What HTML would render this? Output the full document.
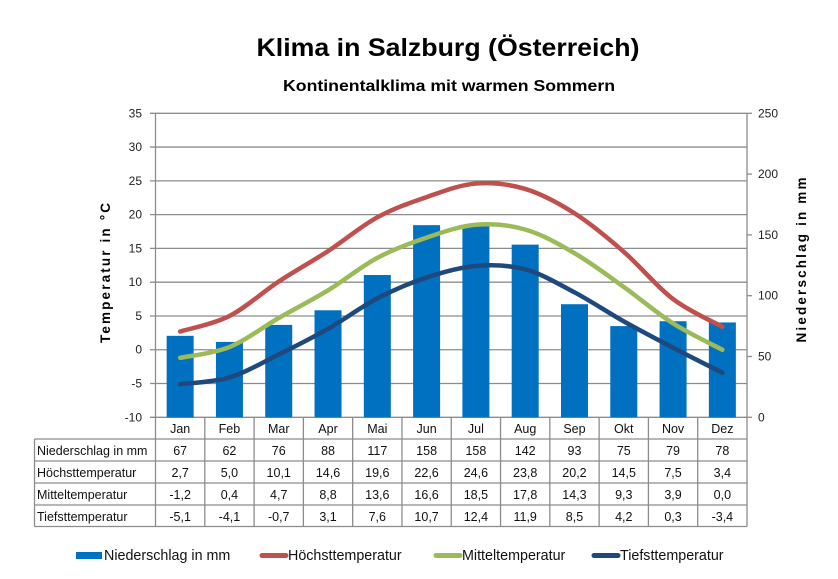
<!DOCTYPE html>
<html><head><meta charset="utf-8"><style>
body{margin:0;background:#fff}
svg{display:block;font-family:"Liberation Sans",sans-serif}
</style></head><body>
<svg id="c" width="838" height="579" viewBox="0 0 838 579">
<text x="448" y="56" text-anchor="middle" font-size="25" font-weight="bold" textLength="383" lengthAdjust="spacingAndGlyphs">Klima in Salzburg (Österreich)</text>
<text x="449" y="91" text-anchor="middle" font-size="16" font-weight="bold" textLength="332" lengthAdjust="spacingAndGlyphs">Kontinentalklima mit warmen Sommern</text>
<text transform="translate(110,273) rotate(-90)" text-anchor="middle" font-size="13.5" font-weight="bold" textLength="140" lengthAdjust="spacing">Temperatur  in  °C</text>
<text transform="translate(806,260) rotate(-90)" text-anchor="middle" font-size="13.5" font-weight="bold" textLength="165" lengthAdjust="spacing">Niederschlag  in  mm</text>
<g id="grid"></g><g id="bars"></g><g id="lines"></g><g id="table"></g><g id="legend"></g>
</svg>
<script>
const months=["Jan","Feb","Mar","Apr","Mai","Jun","Jul","Aug","Sep","Okt","Nov","Dez"];
const precip=[67,62,76,88,117,158,158,142,93,75,79,78];
const tmax=[2.7,5.0,10.1,14.6,19.6,22.6,24.6,23.8,20.2,14.5,7.5,3.4];
const tmean=[-1.2,0.4,4.7,8.8,13.6,16.6,18.5,17.8,14.3,9.3,3.9,0.0];
const tmin=[-5.1,-4.1,-0.7,3.1,7.6,10.7,12.4,11.9,8.5,4.2,0.3,-3.4];
const leftTicks=[-10,-5,0,5,10,15,20,25,30,35];
const rightTicks=[0,50,100,150,200,250];
const NS="http://www.w3.org/2000/svg";
const L=155.5,R=747,T=113.3,B=417.3,cw=(R-L)/12;
const yT=v=>B-(v+10)/45*(B-T);
const yP=v=>B-v/250*(B-T);
const xC=i=>L+cw*(i+0.5);
function mk(p,tag,a,txt){const e=document.createElementNS(NS,tag);for(const k in a)e.setAttribute(k,a[k]);if(txt!==undefined)e.textContent=txt;p.appendChild(e);return e;}
const g=document.getElementById('grid');
leftTicks.forEach(t=>{const y=yT(t);
 const l=mk(g,'line',{x1:150,x2:R,y1:y,y2:y,stroke:'#8c8c8c','stroke-width':1.3});
 
 const tx=mk(g,'text',{x:142,y:y+4,'text-anchor':'end','font-size':12,fill:'#222'},String(t));
 });
rightTicks.forEach(t=>{const y=yP(t);
 mk(g,'line',{x1:R,x2:R+5,y1:y,y2:y,stroke:'#8c8c8c','stroke-width':1.3});
 const tx=mk(g,'text',{x:758,y:y+4,'font-size':12,fill:'#222'},String(t));
 });
mk(g,'line',{x1:L,x2:L,y1:T,y2:B,stroke:'#8c8c8c','stroke-width':1.3});
mk(g,'line',{x1:R,x2:R,y1:T,y2:B,stroke:'#8c8c8c','stroke-width':1.3});
const bg=document.getElementById('bars');
precip.forEach((v,i)=>{const r=mk(bg,'rect',{x:xC(i)-13.5,y:yP(v),width:27,height:B-yP(v),fill:'#0070c0'});
 });
function smooth(vals){const p=vals.map((v,i)=>[xC(i),yT(v)]);let d='M'+p[0][0]+','+p[0][1];
 for(let i=0;i<p.length-1;i++){const p0=p[Math.max(i-1,0)],p1=p[i],p2=p[i+1],p3=p[Math.min(i+2,p.length-1)];
 const c1=[p1[0]+(p2[0]-p0[0])/6,p1[1]+(p2[1]-p0[1])/6],c2=[p2[0]-(p3[0]-p1[0])/6,p2[1]-(p3[1]-p1[1])/6];
 d+=' C'+c1+' '+c2+' '+p2;}return d;}
const lg=document.getElementById('lines');
[[tmax,'#c0504d','line-hoechsttemperatur'],[tmean,'#9bbb59','line-mitteltemperatur'],[tmin,'#1f497d','line-tiefsttemperatur']].forEach(s=>{
 const p=mk(lg,'path',{d:smooth(s[0]),fill:'none',stroke:s[1],'stroke-width':4.5,'stroke-linecap':'round'});
 });
const tb=document.getElementById('table');
const rows=[["Niederschlag in mm",precip.map(String)],["Höchsttemperatur",tmax.map(v=>v.toFixed(1).replace('.',','))],["Mitteltemperatur",tmean.map(v=>v.toFixed(1).replace('.',','))],["Tiefsttemperatur",tmin.map(v=>v.toFixed(1).replace('.',','))]];
const rh=[417.3,439,461,483,505,526.5];
const st={stroke:'#8c8c8c','stroke-width':1.3};
for(let i=0;i<=12;i++){const x=L+cw*i;mk(tb,'line',Object.assign({x1:x,x2:x,y1:rh[0],y2:rh[5]},st));}
mk(tb,'line',Object.assign({x1:34.5,x2:34.5,y1:rh[1],y2:rh[5]},st));
for(let r=1;r<=5;r++)mk(tb,'line',Object.assign({x1:34.5,x2:R,y1:rh[r],y2:rh[r]},st));
months.forEach((m,i)=>{const t=mk(tb,'text',{x:xC(i),y:433,'text-anchor':'middle','font-size':12.5,fill:'#111'},m);
 });
rows.forEach((r,ri)=>{const y=rh[ri+1]+16;
 const h=mk(tb,'text',{x:37,y:y,'font-size':12.5,fill:'#111'},r[0]);
 r[1].forEach((v,i)=>{const t=mk(tb,'text',{x:xC(i),y:y,'text-anchor':'middle','font-size':12.5,fill:'#111'},v);
 });});
const le=document.getElementById('legend');
[[76,'#0070c0','Niederschlag in mm','rect'],[260,'#c0504d','Höchsttemperatur','line'],[434,'#9bbb59','Mitteltemperatur','line'],[592,'#1f497d','Tiefsttemperatur','line']].forEach(e=>{
 const gg=mk(le,'g',{});
 if(e[3]==='rect')mk(gg,'rect',{x:e[0],y:552,width:26,height:7,fill:e[1]});
 else mk(gg,'line',{x1:e[0]+2,x2:e[0]+26,y1:555.5,y2:555.5,stroke:e[1],'stroke-width':5,'stroke-linecap':'round'});
 mk(gg,'text',{x:e[0]+28,y:560,'font-size':14.3,fill:'#111'},e[2]);});
</script>
</body></html>
